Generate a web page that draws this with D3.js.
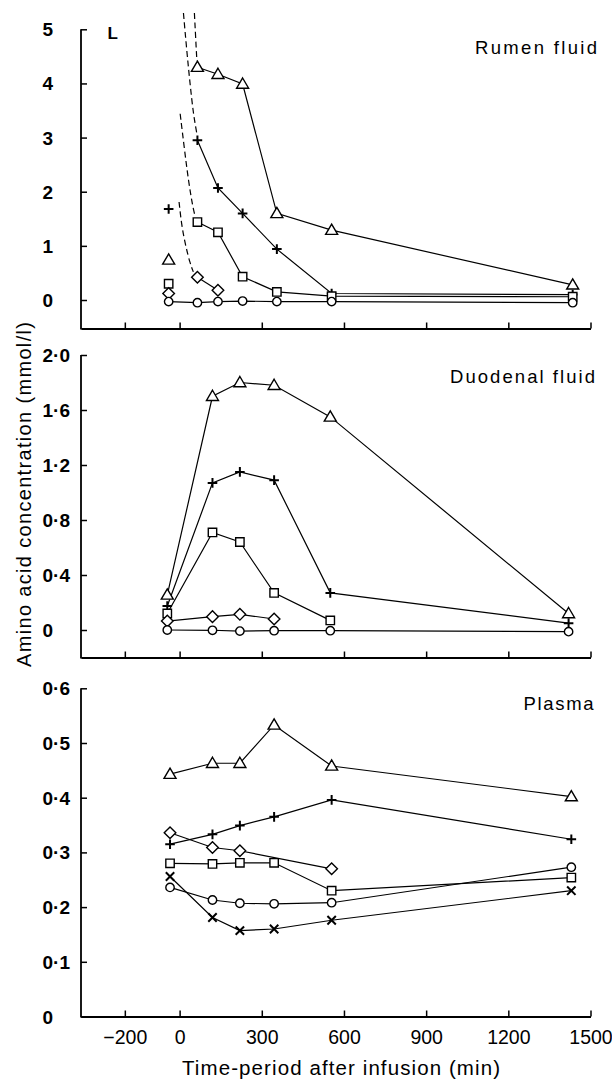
<!DOCTYPE html>
<html><head><meta charset="utf-8">
<script src="https://cdn.jsdelivr.net/npm/d3@7"></script>
<style>body{margin:0;background:#fff}svg{display:block}</style>
</head><body><svg id="c" width="612" height="1081"></svg>
<script>
// ---------- data ----------
const xTicks = [-200, 0, 300, 600, 900, 1200, 1500];
const xTickLabels = ["\u2212200", "0", "300", "600", "900", "1200", "1500"];

const rumenYTicks = [0, 1, 2, 3, 4, 5];
const rumenYTickLabels = ["0", "1", "2", "3", "4", "5"];
const duodYTicks = [0, 0.4, 0.8, 1.2, 1.6, 2.0];
const duodYTickLabels = ["0", "0\u00b74", "0\u00b78", "1\u00b72", "1\u00b76", "2\u00b70"];
const plasmaYTicks = [0, 0.1, 0.2, 0.3, 0.4, 0.5, 0.6];
const plasmaYTickLabels = ["0", "0\u00b71", "0\u00b72", "0\u00b73", "0\u00b74", "0\u00b75", "0\u00b76"];

// Rumen fluid (first value = pre-infusion sample)
const rumenTimes    = [-40, 65, 140, 230, 355, 555, 1435];
const rumenTriangle = [0.74, 4.30, 4.17, 3.99, 1.60, 1.29, 0.28];
const rumenPlus     = [1.68, 2.95, 2.07, 1.60, 0.94, 0.12, 0.10];
const rumenSquare   = [0.30, 1.44, 1.25, 0.43, 0.15, 0.07, 0.06];
const rumenDiamond  = [0.12, 0.42, 0.18, null, null, null, null];
const rumenCircle   = [-0.03, -0.05, -0.03, -0.02, -0.03, -0.03, -0.05];
const rumenPreJoined = ["circle"];
// dashed infusion curves (time, value)
const rumenDashTriangle = [[54, 5.30], [58, 4.90], [63, 4.42]];
const rumenDashPlus     = [[14, 5.30], [26, 4.61], [38, 4.00], [50, 3.44], [63, 3.07]];
const rumenDashSquare   = [[2, 3.44], [18, 2.77], [32, 2.21], [48, 1.72], [57, 1.54]];
const rumenDashDiamond  = [[-2, 1.81], [8, 1.35], [23, 0.98], [38, 0.68], [50, 0.52]];

// Duodenal fluid
const duodTimes    = [-45, 120, 220, 345, 550, 1420];
const duodTriangle = [0.255, 1.70, 1.80, 1.78, 1.55, 0.12];
const duodPlus     = [0.175, 1.07, 1.15, 1.09, 0.27, 0.05];
const duodSquare   = [0.12, 0.71, 0.64, 0.27, 0.07, null];
const duodDiamond  = [0.065, 0.097, 0.114, 0.08, null, null];
const duodCircle   = [0.0, -0.002, -0.008, -0.005, -0.005, -0.012];

// Plasma
const plasmaTimes    = [-35, 120, 220, 345, 555, 1430];
const plasmaTriangle = [0.443, 0.463, 0.463, 0.533, 0.458, 0.402];
const plasmaPlus     = [0.315, 0.333, 0.349, 0.365, 0.396, 0.324];
const plasmaDiamond  = [0.336, 0.309, 0.303, null, 0.270, null];
const plasmaSquare   = [0.280, 0.279, 0.281, 0.281, 0.230, 0.254];
const plasmaCircle   = [0.236, 0.213, 0.207, 0.206, 0.208, 0.273];
const plasmaCross    = [0.256, 0.181, 0.157, 0.160, 0.176, 0.230];

// ---------- drawing ----------
const FONT = "'Liberation Sans', Arial, Helvetica, sans-serif";
const svg = d3.select("#c");
const x = d3.scaleLinear().domain([-360, 1500]).range([81, 590.5]);

const panels = [
  { title: "Rumen fluid", titleX: 597, titleY: 53.5, titleLen: 122,
    y: d3.scaleLinear().domain([0, 5]).range([300, 29.3]), base: 328.5,
    ticks: rumenYTicks, labels: rumenYTickLabels, times: rumenTimes,
    series: [["triangle", rumenTriangle], ["plus", rumenPlus], ["square", rumenSquare],
             ["diamond", rumenDiamond], ["circle", rumenCircle]],
    preIsolated: true,
    dashes: [rumenDashTriangle, rumenDashPlus, rumenDashSquare, rumenDashDiamond] },
  { title: "Duodenal fluid", titleX: 595, titleY: 383.3, titleLen: 145,
    y: d3.scaleLinear().domain([0, 2]).range([630, 355]), base: 657.5,
    ticks: duodYTicks, labels: duodYTickLabels, times: duodTimes,
    series: [["triangle", duodTriangle], ["plus", duodPlus], ["square", duodSquare],
             ["diamond", duodDiamond], ["circle", duodCircle]],
    preIsolated: false, dashes: [] },
  { title: "Plasma", titleX: 593.5, titleY: 710, titleLen: 70,
    y: d3.scaleLinear().domain([0, 0.6]).range([1016.5, 688.3]), base: 1016.5,
    ticks: plasmaYTicks, labels: plasmaYTickLabels, times: plasmaTimes,
    series: [["triangle", plasmaTriangle], ["plus", plasmaPlus], ["diamond", plasmaDiamond],
             ["square", plasmaSquare], ["circle", plasmaCircle], ["cross", plasmaCross]],
    preIsolated: false, dashes: [], xLabels: true }
];

function markerPath(type) {
  const p = d3.path();
  switch (type) {
    case "triangle": p.moveTo(0, -6); p.lineTo(6, 4.2); p.lineTo(-6, 4.2); p.closePath(); break;
    case "square": p.rect(-4.2, -4.2, 8.4, 8.4); break;
    case "diamond": p.moveTo(0, -5.8); p.lineTo(5.8, 0); p.lineTo(0, 5.8); p.lineTo(-5.8, 0); p.closePath(); break;
    case "circle": p.arc(0, 0, 4.2, 0, 2 * Math.PI); break;
    case "plus": p.moveTo(-4.8, 0); p.lineTo(4.8, 0); p.moveTo(0, -4.8); p.lineTo(0, 4.8); break;
    case "cross": p.moveTo(-4.2, -4.2); p.lineTo(4.2, 4.2); p.moveTo(-4.2, 4.2); p.lineTo(4.2, -4.2); break;
  }
  return p.toString();
}

panels.forEach((P) => {
  const g = svg.append("g");
  // x axis
  const xa = d3.axisBottom(x).tickValues(xTicks).tickSize(-6).tickSizeOuter(0)
    .tickFormat((d, i) => P.xLabels ? xTickLabels[i] : "");
  const gx = g.append("g").attr("transform", `translate(0,${P.base})`).call(xa);
  gx.select(".domain").attr("stroke", "#000").attr("stroke-width", 1.8);
  gx.selectAll(".tick line").attr("stroke", "#000").attr("stroke-width", 1.5);
  gx.selectAll("text").attr("y", 27).attr("dy", 0).attr("fill", "#000")
    .attr("font-family", FONT).attr("font-size", 19.5);

  // y axis
  const ya = d3.axisLeft(P.y).tickValues(P.ticks).tickSize(-6).tickSizeOuter(0)
    .tickFormat((d, i) => P.labels[i]);
  const gy = g.append("g").attr("transform", `translate(${x.range()[0]},0)`).call(ya);
  gy.select(".domain").remove();
  gy.selectAll(".tick line").attr("stroke", "#000").attr("stroke-width", 1.5);
  gy.selectAll("text").attr("x", 42.5 - x.range()[0]).attr("dy", 6.5).attr("text-anchor", "start")
    .attr("fill", "#000").attr("font-family", FONT).attr("font-size", 19).attr("font-weight", "bold");
  g.append("line").attr("x1", x.range()[0]).attr("x2", x.range()[0])
    .attr("y1", P.base + 0.9).attr("y2", P.y(d3.max(P.ticks)))
    .attr("stroke", "#000").attr("stroke-width", 1.8);

  // panel title
  g.append("text").attr("x", P.titleX).attr("y", P.titleY).attr("text-anchor", "end")
    .attr("font-family", FONT).attr("font-size", 18.5)
    .attr("textLength", P.titleLen).attr("lengthAdjust", "spacing").text(P.title);

  // dashed infusion curves
  const dline = d3.line().x(d => x(d[0])).y(d => P.y(d[1])).curve(d3.curveBasis);
  P.dashes.forEach(arr => {
    g.append("path").attr("d", dline(arr)).attr("fill", "none").attr("stroke", "#000")
      .attr("stroke-width", 1.2).attr("stroke-dasharray", "6,3.5");
  });

  // lines
  const line = d3.line().x(d => x(d.t)).y(d => P.y(d.v));
  P.series.forEach(([type, vals]) => {
    let pts = vals.map((v, i) => ({ t: P.times[i], v })).filter(d => d.v !== null);
    let linePts = pts;
    if (P.preIsolated && !rumenPreJoined.includes(type)) linePts = pts.slice(1);
    g.append("path").attr("d", line(linePts)).attr("fill", "none")
      .attr("stroke", "#000").attr("stroke-width", 1.2);
  });
  // markers
  P.series.forEach(([type, vals]) => {
    const pts = vals.map((v, i) => ({ t: P.times[i], v })).filter(d => d.v !== null);
    g.selectAll(null).data(pts).join("path")
      .attr("transform", d => `translate(${x(d.t)},${P.y(d.v)})`)
      .attr("d", markerPath(type))
      .attr("fill", (type === "plus" || type === "cross") ? "none" : "#fff")
      .attr("stroke", "#000")
      .attr("stroke-width", (type === "plus" || type === "cross") ? 2 : 1.4);
  });
});

// "L" label
svg.append("text").attr("x", 107.5).attr("y", 38.5).attr("font-family", FONT)
  .attr("font-size", 17).attr("font-weight", "bold").text("L");

// axis titles
svg.append("text").attr("x", 341).attr("y", 1075).attr("text-anchor", "middle")
  .attr("font-family", FONT).attr("font-size", 20.5)
  .attr("textLength", 318).attr("lengthAdjust", "spacing")
  .text("Time-period after infusion (min)");
svg.append("text").attr("transform", "translate(31,494.5) rotate(-90)")
  .attr("text-anchor", "middle").attr("font-family", FONT).attr("font-size", 20)
  .attr("textLength", 345).attr("lengthAdjust", "spacing")
  .text("Amino acid concentration (mmol/l)");
</script>
</body></html>
